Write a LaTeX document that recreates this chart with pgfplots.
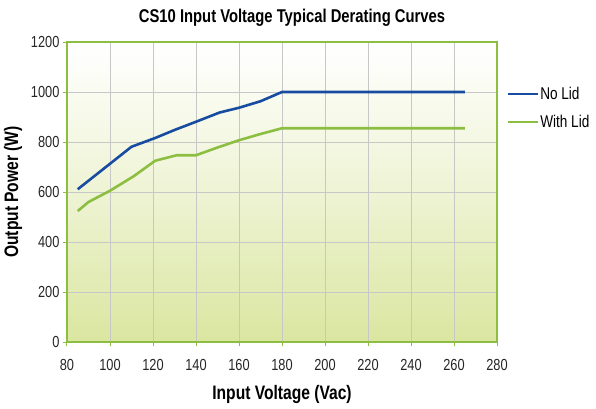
\documentclass[border=0pt]{standalone}
\usepackage{pgfplots}
\pgfplotsset{compat=1.18}
\usepackage{fontspec}
\setmainfont[FakeStretch=0.8]{Liberation Sans}
\definecolor{cblue}{RGB}{24,76,160}
\definecolor{cgreen}{RGB}{140,190,65}
\definecolor{cbg}{RGB}{218,230,160}
\begin{document}
\begin{tikzpicture}
\useasboundingbox (-67pt,-66pt) rectangle (529pt,342pt);
\begin{axis}[
  at={(0pt,0pt)}, anchor=south west,
  scale only axis, width=430pt, height=300pt,
  xmin=80, xmax=280, ymin=0, ymax=1200,
  xtick={80,100,...,280}, ytick={0,200,...,1200},
  grid=major, major grid style={draw=black!22, line width=0.7pt},
  axis line style={draw=cgreen, line width=1.4pt},
  tick style={draw=cgreen, line width=1pt}, tick align=outside, major tick length=4pt,
  xtick pos=bottom, ytick pos=left,
  /pgf/number format/assume math mode=true,
  /pgf/number format/1000 sep={},
  tick label style={font=\fontsize{16}{17}\selectfont, text=black!85},
  xticklabel style={yshift=-10pt},
  axis background/.style={shade, top color=white, bottom color=cbg, middle color=cbg!45},
  title={\bfseries CS10 Input Voltage Typical Derating Curves},
  title style={font=\fontsize{18.5}{19}\selectfont, yshift=6pt, xshift=10pt},
  xlabel={\bfseries Input Voltage (Vac)},
  ylabel={\bfseries Output Power (W)},
  label style={font=\fontsize{19.5}{20}\selectfont},
  xlabel style={yshift=-8pt},
  ylabel style={yshift=2pt},
  legend style={at={(1.022,0.78)}, anchor=west, draw=none, fill=none, inner sep=0pt,
    font=\fontsize{17}{18}\selectfont, row sep=12pt, nodes={inner sep=1pt}},
  legend cell align=left,
  legend image code/.code={\draw[#1] (0pt,0pt) -- (30pt,0pt);},
]
\addplot[cblue, line width=2.6pt] coordinates {
(85,611) (110,781) (121,816) (130,848) (140,881) (151,918) (160,937) (170,963) (180,1000) (265,1000)};
\addlegendentry{No Lid}
\addplot[cgreen, line width=2.6pt] coordinates {
(85,524) (90,560) (100,605) (111,663) (121,725) (131,747) (140,747) (150,778) (160,807) (170,832) (180,855) (265,855)};
\addlegendentry{With Lid}
\end{axis}
\end{tikzpicture}
\end{document}
